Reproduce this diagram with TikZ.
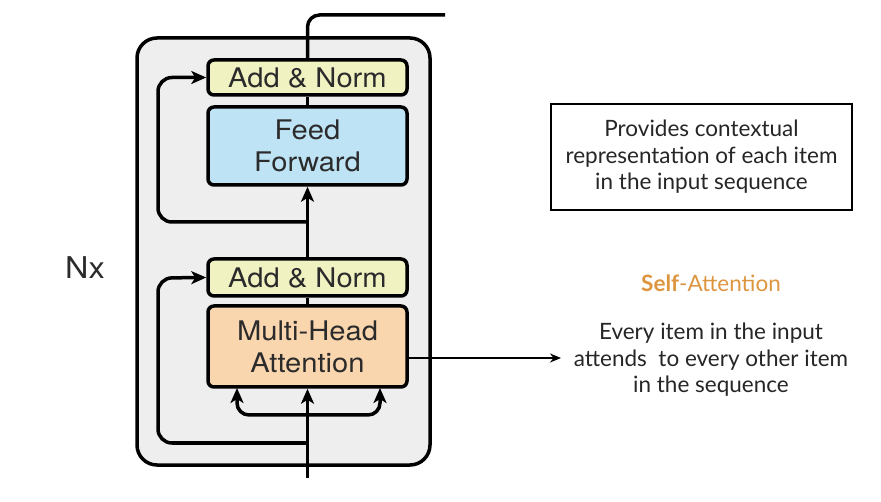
\documentclass[tikz,border=0pt]{standalone}
\usepackage{fontspec}
\setmainfont{TeX Gyre Heros}[FakeStretch=1.08]
\newfontfamily\latofont{Lato}
\usetikzlibrary{arrows.meta,calc}
\definecolor{outerfill}{HTML}{EEEEEF}
\definecolor{normfill}{HTML}{F1F2C2}
\definecolor{fffill}{HTML}{BEE3F4}
\definecolor{mhafill}{HTML}{F9D6AD}
\definecolor{boxtext}{HTML}{2B2B2B}
\definecolor{saorange}{HTML}{DE9540}
\tikzset{
  blockbox/.style={draw=black, line width=3.5pt, rounded corners=6pt, minimum width=199pt,
    text=boxtext, align=center, font=\fontsize{27}{32}\selectfont, inner sep=0pt},
  normbox/.style={blockbox, fill=normfill, minimum height=35pt},
  conn/.style={line width=3.5pt, draw=black},
  arr/.style={conn, -{Stealth[length=15pt,width=13pt,inset=4pt]}},
  thinarr/.style={line width=2pt, -{Stealth[length=11pt,width=9pt]}},
  rtext/.style={font=\latofont\fontsize{22.5}{26.5}\selectfont, text=black!85, align=center}
}
\begin{document}
\begin{tikzpicture}[x=1pt,y=-1pt]
\useasboundingbox (0,0) rectangle (881,502);
% outer block
\draw[line width=3.5pt, fill=outerfill, rounded corners=20pt] (137,38) rectangle (430,465);
\node[font=\fontsize{30}{34}\selectfont, text=boxtext] (nx) at (85,268) {Nx};
% blocks
\node[normbox] (an2) at (307.5,77.5) {Add \& Norm};
\node[blockbox, fill=fffill, minimum height=78pt] (ff) at (307.5,146) {Feed\\Forward};
\node[normbox, minimum height=37pt] (an1) at (307.5,277.5) {Add \& Norm};
\node[blockbox, fill=mhafill, minimum height=81pt] (mha) at (307.5,346.5) {Multi-Head\\Attention};
% coordinates
\coordinate (in) at (307.5,478);
\coordinate (split) at (307.5,415);
\coordinate (ql) at (237,388);
\coordinate (qr) at (380,388);
\coordinate (res1) at (307.5,443);
\coordinate (c1) at (158,278);
\coordinate (res2) at (307.5,222);
\coordinate (c2) at (158,77.5);
\coordinate (out) at (445,15);
\coordinate (sa) at (561,358);
% connectors
\draw[arr] (in) -- (mha.south);
\draw[arr, rounded corners=12pt] (split) -| (ql);
\draw[arr, rounded corners=12pt] (split) -| (qr);
\draw[arr, rounded corners=14pt] (res1) -| (c1) -- (an1.west);
\draw[conn] (mha.north) -- (an1.south);
\draw[arr] (an1.north) -- (ff.south);
\draw[arr, rounded corners=14pt] (res2) -| (c2) -- (an2.west);
\draw[conn] (ff.north) -- (an2.south);
\draw[conn, rounded corners=12pt] (an2.north) |- (out);
\draw[thinarr] (mha.east |- sa) -- (sa);
% right texts
\node[rtext, draw=black, line width=1.5pt, minimum width=301pt, minimum height=106pt] (desc) at (701.5,157)
  {Provides contextual\\representation of each item\\in the input sequence};
\node[font=\latofont\fontsize{22.5}{26}\selectfont, text=saorange] (satitle) at (711,283) {\textbf{Self}-Attention};
\node[rtext] (sadesc) at (711,360) {Every item in the input\\attends\ \ to every other item\\in the sequence};
\end{tikzpicture}
\end{document}
